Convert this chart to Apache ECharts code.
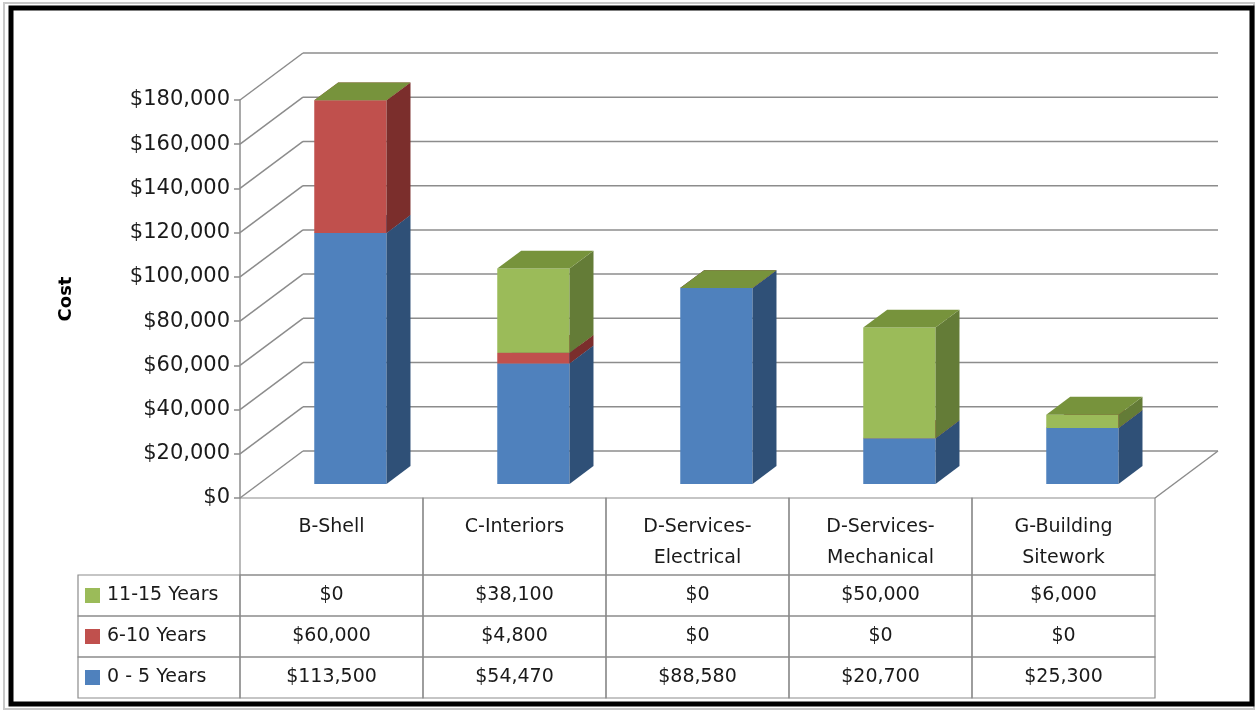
<!DOCTYPE html>
<html>
<head>
<meta charset="utf-8">
<script src="https://cdn.jsdelivr.net/npm/echarts@6/dist/echarts.min.js"></script>
<style>
  html, body { margin: 0; padding: 0; background: #fff; }
  #main { width: 1257px; height: 713px; }
</style>
</head>
<body>
<div id="main"></div>
<script>
// ---- data ----
const categories = ['B-Shell', 'C-Interiors', 'D-Services-\nElectrical', 'D-Services-\nMechanical', 'G-Building\nSitework'];
const years0to5 = [113500, 54470, 88580, 20700, 25300];
const years6to10 = [60000, 4800, 0, 0, 0];
const years11to15 = [0, 38100, 0, 50000, 6000];
const seriesNames = ['0 - 5 Years', '6-10 Years', '11-15 Years'];
const yTickValues = [0, 20000, 40000, 60000, 80000, 100000, 120000, 140000, 160000, 180000];

// ---- look ----
const FONT = 'DejaVu Sans';
const GRID_COLOR = '#8c8c8c';
const DEPTH_X = 63, DEPTH_Y = -47;          // full depth of the 3D box in px
const BAR_FRONT = 0.3, BAR_BACK = 0.68;     // bar position inside the depth
const BAR_WIDTH_RATIO = 0.395;
const HEADER_H = 77, ROW_H = 41;
const faceColors = [
  { front: '#4F81BD', side: '#2F5077', top: '#3C6493' },
  { front: '#C0504D', side: '#7B2E2C', top: '#97403D' },
  { front: '#9BBB59', side: '#647C37', top: '#77933C' }
];
const stacks = [years0to5, years6to10, years11to15];

const money = v => '$' + v.toLocaleString('en-US');

// stacked segments [category, base, top]
function segments(k) {
  return categories.map((c, i) => {
    let base = 0;
    for (let j = 0; j < k; j++) base += stacks[j][i];
    return [i, base, base + stacks[k][i]];
  });
}

function barItem(k) {
  return function (params, api) {
    const cat = api.value(0), lo = api.value(1), hi = api.value(2);
    const pLo = api.coord([cat, lo]);
    const pHi = api.coord([cat, hi]);
    const w = api.size([1, 0])[0] * BAR_WIDTH_RATIO;
    const fx = BAR_FRONT * DEPTH_X, fy = BAR_FRONT * DEPTH_Y;
    const dx = (BAR_BACK - BAR_FRONT) * DEPTH_X, dy = (BAR_BACK - BAR_FRONT) * DEPTH_Y;
    const x0 = pLo[0] - w / 2 + fx, x1 = x0 + w;
    const yB = pLo[1] + fy, yT = pHi[1] + fy;
    const c = faceColors[k];
    return {
      type: 'group',
      children: [
        { type: 'rect', shape: { x: x0, y: yT, width: w, height: yB - yT }, style: { fill: c.front } },
        { type: 'polygon', shape: { points: [[x1, yB], [x1 + dx, yB + dy], [x1 + dx, yT + dy], [x1, yT]] }, style: { fill: c.side } },
        { type: 'polygon', shape: { points: [[x0, yT], [x1, yT], [x1 + dx, yT + dy], [x0 + dx, yT + dy]] }, style: { fill: c.top } }
      ]
    };
  };
}

// back wall grid lines and left wall diagonals
function wallItem(params, api) {
  const cs = params.coordSys;
  const v = api.value(0);
  const y = api.coord([0, v])[1];
  const xL = cs.x, xR = cs.x + cs.width;
  const st = { stroke: GRID_COLOR, lineWidth: 1.5 };
  const children = [
    { type: 'line', shape: { x1: xL, y1: y, x2: xL + DEPTH_X, y2: y + DEPTH_Y }, style: st },
    { type: 'line', shape: { x1: xL + DEPTH_X, y1: y + DEPTH_Y, x2: xR + DEPTH_X, y2: y + DEPTH_Y }, style: st }
  ];
  if (v === yTickValues[0]) {
    children.push({ type: 'line', shape: { x1: xR, y1: y, x2: xR + DEPTH_X, y2: y + DEPTH_Y }, style: st });
  }
  return { type: 'group', children: children };
}

// data table under the plot
function tableItem(params, api) {
  const i = api.value(0);
  const p = api.coord([i, 0]);
  const colW = api.size([1, 0])[0];
  const xL = p[0] - colW / 2;
  const top = p[1];
  const border = { fill: 'none', stroke: GRID_COLOR, lineWidth: 1.2 };
  const txt = { fill: '#1a1a1a', font: '19px "' + FONT + '"', align: 'center' };
  const children = [
    { type: 'rect', shape: { x: xL, y: top, width: colW, height: HEADER_H }, style: border },
    { type: 'text', x: p[0], y: top + 14, style: Object.assign({ text: categories[i], verticalAlign: 'top', lineHeight: 31 }, txt) }
  ];
  const rows = [2, 1, 0];
  rows.forEach((k, r) => {
    const ry = top + HEADER_H + r * ROW_H;
    children.push({ type: 'rect', shape: { x: xL, y: ry, width: colW, height: ROW_H }, style: border });
    children.push({ type: 'text', x: p[0], y: ry + ROW_H / 2, style: Object.assign({ text: money(stacks[k][i]), verticalAlign: 'middle' }, txt) });
    if (i === 0) {
      const lx = xL - 162;
      children.push({ type: 'rect', shape: { x: lx, y: ry, width: 162, height: ROW_H }, style: border });
      children.push({ type: 'rect', shape: { x: lx + 7, y: ry + ROW_H / 2 - 7.5, width: 15, height: 15 }, style: { fill: faceColors[k].front } });
      children.push({ type: 'text', x: lx + 29, y: ry + ROW_H / 2, style: Object.assign({}, txt, { text: seriesNames[k], align: 'left', verticalAlign: 'middle' }) });
    }
  });
  return { type: 'group', children: children };
}

const chart = echarts.init(document.getElementById('main'), null, { renderer: 'canvas' });

const series = [
  {
    type: 'custom', name: 'walls', silent: true, clip: false, z: 1,
    renderItem: wallItem, data: yTickValues.map(v => [v])
  },
  {
    type: 'custom', name: 'table', silent: true, clip: false, z: 2,
    renderItem: tableItem, data: categories.map((c, i) => [i])
  }
];
stacks.forEach((arr, k) => {
  series.push({
    type: 'custom', name: seriesNames[k], clip: false, z: 3 + k,
    renderItem: barItem(k), data: segments(k),
    encode: { x: 0, y: [1, 2] }
  });
});

chart.setOption({
  animation: false,
  backgroundColor: '#fff',
  graphic: [
    { type: 'rect', shape: { x: 4, y: 3, width: 1250, height: 706 }, style: { fill: 'none', stroke: '#c8c8c8', lineWidth: 2 }, z: 0 },
    { type: 'rect', shape: { x: 11, y: 8, width: 1241, height: 696 }, style: { fill: 'none', stroke: '#000', lineWidth: 5 }, z: 10 }
  ],
  grid: { left: 240, top: 100, width: 915, height: 398, containLabel: false },
  xAxis: {
    type: 'category', data: categories,
    axisLine: { show: false }, axisTick: { show: false }, axisLabel: { show: false },
    splitLine: { show: false }
  },
  yAxis: {
    type: 'value', min: 0, max: 180000, interval: 20000,
    name: 'Cost', nameLocation: 'middle', nameGap: 165,
    nameTextStyle: { fontFamily: FONT, fontSize: 18, fontWeight: 'bold', color: '#000' },
    axisLine: { show: true, lineStyle: { color: GRID_COLOR, width: 1.5 } },
    axisTick: { show: true, length: 6, lineStyle: { color: GRID_COLOR, width: 1.5 } },
    axisLabel: { formatter: money, fontFamily: FONT, fontSize: 21, color: '#1a1a1a', margin: 10 },
    splitLine: { show: false }
  },
  series: series
});
</script>
</body>
</html>
